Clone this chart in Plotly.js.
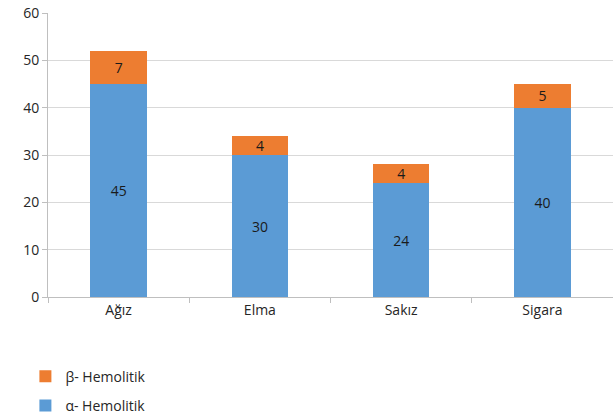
<!DOCTYPE html>
<html>
<head>
<meta charset="utf-8">
<script src="https://cdn.plot.ly/plotly-3.0.1.min.js"></script>
<style>html,body{margin:0;padding:0;background:#fff;}#chart{width:613px;height:418px;}</style>
</head>
<body>
<div id="chart"></div>
<script>
var categories = ["Ağız", "Elma", "Sakız", "Sigara"];
var alphaValues = [45, 30, 24, 40];
var betaValues = [7, 4, 4, 5];
var yTicks = [0, 10, 20, 30, 40, 50, 60];

var fontFam = "Open Sans, Liberation Sans, sans-serif";
var traces = [
  {type: "bar", name: "α- Hemolitik", legendgroup: "alpha", legendrank: 2, x: categories, y: alphaValues,
   text: alphaValues.map(String), textposition: "inside", insidetextanchor: "middle",
   textangle: 0, constraintext: "none",
   textfont: {family: fontFam, size: 14, color: "#1a1a1a"},
   marker: {color: "#5b9bd5"}, width: 0.4, hoverinfo: "none"},
  {type: "bar", name: "β- Hemolitik", legendgroup: "beta", legendrank: 1, x: categories, y: betaValues,
   text: betaValues.map(String), textposition: "inside", insidetextanchor: "middle",
   textangle: 0, constraintext: "none",
   textfont: {family: fontFam, size: 14, color: "#1a1a1a"},
   marker: {color: "#ed7d31"}, width: 0.4, hoverinfo: "none"}
];

var layout = {
  width: 613, height: 418,
  margin: {l: 48, r: 0, t: 13, b: 121, autoexpand: false},
  barmode: "stack",
  paper_bgcolor: "#fff", plot_bgcolor: "#fff",
  font: {family: fontFam, size: 14, color: "#262626"},
  showlegend: true,
  legend: {x: -0.04, y: -0.224, xanchor: "left", yanchor: "top",
           traceorder: "grouped", tracegroupgap: 8,
           font: {family: fontFam, size: 14, color: "#262626"},
           itemwidth: 30},
  xaxis: {type: "category", tickson: "boundaries", ticks: "outside", ticklen: 5,
          tickcolor: "#bfbfbf", showgrid: false, showline: true, linecolor: "#bfbfbf",
          linewidth: 1, range: [-0.5, 3.5], fixedrange: true,
          tickfont: {family: fontFam, size: 14, color: "#262626"}},
  yaxis: {range: [0, 60], tickvals: yTicks, ticktext: yTicks.map(String),
          ticks: "outside", ticklen: 5, tickcolor: "#bfbfbf",
          showgrid: true, gridcolor: "#d9d9d9", showline: true, linecolor: "#bfbfbf",
          zeroline: false, fixedrange: true,
          tickfont: {family: fontFam, size: 14, color: "#262626"}}
};

Plotly.newPlot("chart", traces, layout, {displayModeBar: false, staticPlot: true});
</script>
</body>
</html>
